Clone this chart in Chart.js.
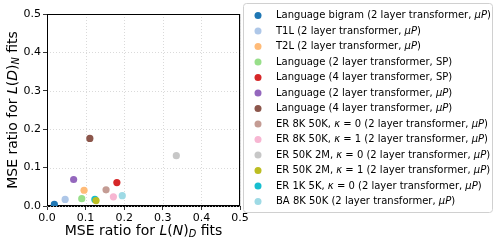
<!DOCTYPE html>
<html lang="en">
<head>
    <meta charset="UTF-8">
    <title>MSE ratio scatter</title>
    <script src="https://cdn.jsdelivr.net/npm/chart.js"></script>
    <style>
        body { margin: 0; background: #fff; }
        #wrap { width: 498px; height: 247px; position: relative; }
    </style>
</head>
<body>
    <div id="wrap"><canvas id="scatter"></canvas></div>

    <script>
        // data
        const seriesNames = [
            'Language bigram (2 layer transformer, μP)',
            'T1L (2 layer transformer, μP)',
            'T2L (2 layer transformer, μP)',
            'Language (2 layer transformer, SP)',
            'Language (4 layer transformer, SP)',
            'Language (2 layer transformer, μP)',
            'Language (4 layer transformer, μP)',
            'ER 8K 50K, κ = 0 (2 layer transformer, μP)',
            'ER 8K 50K, κ = 1 (2 layer transformer, μP)',
            'ER 50K 2M, κ = 0 (2 layer transformer, μP)',
            'ER 50K 2M, κ = 1 (2 layer transformer, μP)',
            'ER 1K 5K, κ = 0 (2 layer transformer, μP)',
            'BA 8K 50K (2 layer transformer, μP)'
        ];
        const mseRatioN = [0.019, 0.047, 0.096, 0.090, 0.181, 0.069, 0.111, 0.153, 0.172, 0.335, 0.127, 0.124, 0.195];
        const mseRatioD = [0.004, 0.017, 0.041, 0.019, 0.061, 0.069, 0.176, 0.042, 0.024, 0.131, 0.014, 0.017, 0.027];
        const tickValues = [0, 0.1, 0.2, 0.3, 0.4, 0.5];

        const colors = ['#1f77b4', '#aec7e8', '#ffbb78', '#98df8a', '#d62728', '#9467bd', '#8c564b',
                        '#c49c94', '#f7b6d2', '#c7c7c7', '#bcbd22', '#17becf', '#9edae5'];

        const FONT = '"DejaVu Sans", sans-serif';

        // draw text made of pieces: {t, it, sub}
        function drawRich(ctx, parts, x, y, size) {
            let cx = x;
            parts.forEach(p => {
                const s = p.sub ? size * 0.7 : size;
                ctx.font = (p.it ? 'italic ' : '') + s + 'px ' + FONT;
                ctx.fillText(p.t, cx, p.sub ? y + size * 0.25 : y);
                cx += ctx.measureText(p.t).width;
            });
            return cx - x;
        }
        function richWidth(ctx, parts, size) {
            let w = 0;
            parts.forEach(p => {
                const s = p.sub ? size * 0.7 : size;
                ctx.font = (p.it ? 'italic ' : '') + s + 'px ' + FONT;
                w += ctx.measureText(p.t).width;
            });
            return w;
        }
        function labelParts(name) {
            const out = [];
            name.split(/(μP|κ)/).forEach(t => {
                if (!t) return;
                out.push({ t: t, it: (t === 'μP' || t === 'κ') });
            });
            return out;
        }

        const decorations = {
            id: 'decorations',
            afterDraw(chart) {
                const ctx = chart.ctx;
                const area = chart.chartArea;
                ctx.save();
                ctx.fillStyle = '#000';
                ctx.textBaseline = 'middle';

                // x title
                const xt = [{ t: 'MSE ratio for ' }, { t: 'L', it: true }, { t: '(' }, { t: 'N', it: true },
                            { t: ')' }, { t: 'D', it: true, sub: true }, { t: ' fits' }];
                const xs = 14;
                const xw = richWidth(ctx, xt, xs);
                drawRich(ctx, xt, (area.left + area.right) / 2 - xw / 2, 231, xs);

                // y title
                const yt = [{ t: 'MSE ratio for ' }, { t: 'L', it: true }, { t: '(' }, { t: 'D', it: true },
                            { t: ')' }, { t: 'N', it: true, sub: true }, { t: ' fits' }];
                const yw = richWidth(ctx, yt, xs);
                ctx.save();
                ctx.translate(13, (area.top + area.bottom) / 2);
                ctx.rotate(-Math.PI / 2);
                drawRich(ctx, yt, -yw / 2, 0, xs);
                ctx.restore();

                // legend box
                const lx = 243, ly = 3, lw = 249, lh = 209;
                ctx.fillStyle = 'rgba(255,255,255,0.85)';
                ctx.strokeStyle = '#d0d0d0';
                ctx.lineWidth = 1;
                ctx.beginPath();
                ctx.roundRect(lx + 0.5, ly + 0.5, lw, lh, 3);
                ctx.fill();
                ctx.stroke();

                chart.data.datasets.forEach((ds, i) => {
                    const yy = 15.5 + i * 15.5;
                    ctx.fillStyle = ds.backgroundColor;
                    ctx.beginPath();
                    ctx.arc(258, yy, 3.5, 0, Math.PI * 2);
                    ctx.fill();
                    ctx.fillStyle = '#000';
                    drawRich(ctx, labelParts(ds.label), 276, yy, 10);
                });
                ctx.restore();
            }
        };

        const ctx = document.getElementById('scatter').getContext('2d');
        new Chart(ctx, {
            type: 'scatter',
            data: {
                datasets: seriesNames.map((name, i) => ({
                    label: name,
                    data: [{ x: mseRatioN[i], y: mseRatioD[i] }],
                    backgroundColor: colors[i],
                    borderColor: colors[i],
                    borderWidth: 0,
                    pointRadius: 3.6
                }))
            },
            options: {
                responsive: true,
                maintainAspectRatio: false,
                animation: false,
                devicePixelRatio: 1,
                layout: { padding: { left: 0, top: 14, right: 258, bottom: 0 } },
                plugins: {
                    legend: { display: false },
                    tooltip: { enabled: false }
                },
                scales: {
                    x: {
                        type: 'linear',
                        min: 0, max: 0.5,
                        afterBuildTicks: s => { s.ticks = tickValues.map(v => ({ value: v })); },
                        afterFit: s => { s.height = 41; },
                        ticks: {
                            color: '#000',
                            font: { family: FONT, size: 11 },
                            padding: 2,
                            maxRotation: 0,
                            callback: v => v.toFixed(1)
                        },
                        grid: {
                            color: '#cfcfcf',
                            tickColor: '#000',
                            tickLength: 4,
                            lineWidth: 0.8
                        },
                        border: { color: '#000', width: 1 }
                    },
                    y: {
                        type: 'linear',
                        min: 0, max: 0.5,
                        afterBuildTicks: s => { s.ticks = tickValues.map(v => ({ value: v })); },
                        afterFit: s => { s.width = 47; },
                        ticks: {
                            color: '#000',
                            font: { family: FONT, size: 11 },
                            padding: 2,
                            callback: v => v.toFixed(1)
                        },
                        grid: {
                            color: '#cfcfcf',
                            tickColor: '#000',
                            tickLength: 4,
                            lineWidth: 0.8
                        },
                        border: { color: '#000', width: 1 }
                    }
                }
            },
            plugins: [{
                id: 'frame',
                beforeDatasetsDraw(chart) {
                    const c = chart.ctx, a = chart.chartArea;
                    c.save();
                    // dotted grid over a clean plot area
                    c.fillStyle = '#fff';
                    c.fillRect(a.left, a.top, a.right - a.left, a.bottom - a.top);
                    c.strokeStyle = '#d0d0d0';
                    c.lineWidth = 0.8;
                    c.setLineDash([1, 2]);
                    const xs = chart.scales.x, ys = chart.scales.y;
                    tickValues.forEach(v => {
                        const px = Math.round(xs.getPixelForValue(v)) + 0.5;
                        const py = Math.round(ys.getPixelForValue(v)) + 0.5;
                        c.beginPath(); c.moveTo(px, a.top); c.lineTo(px, a.bottom); c.stroke();
                        c.beginPath(); c.moveTo(a.left, py); c.lineTo(a.right, py); c.stroke();
                    });
                    c.setLineDash([]);
                    c.strokeStyle = '#000';
                    c.lineWidth = 1;
                    c.strokeRect(a.left + 0.5, a.top + 0.5, a.right - a.left - 1, a.bottom - a.top - 1);
                    c.restore();
                }
            }, decorations]
        });
    </script>
</body>
</html>
